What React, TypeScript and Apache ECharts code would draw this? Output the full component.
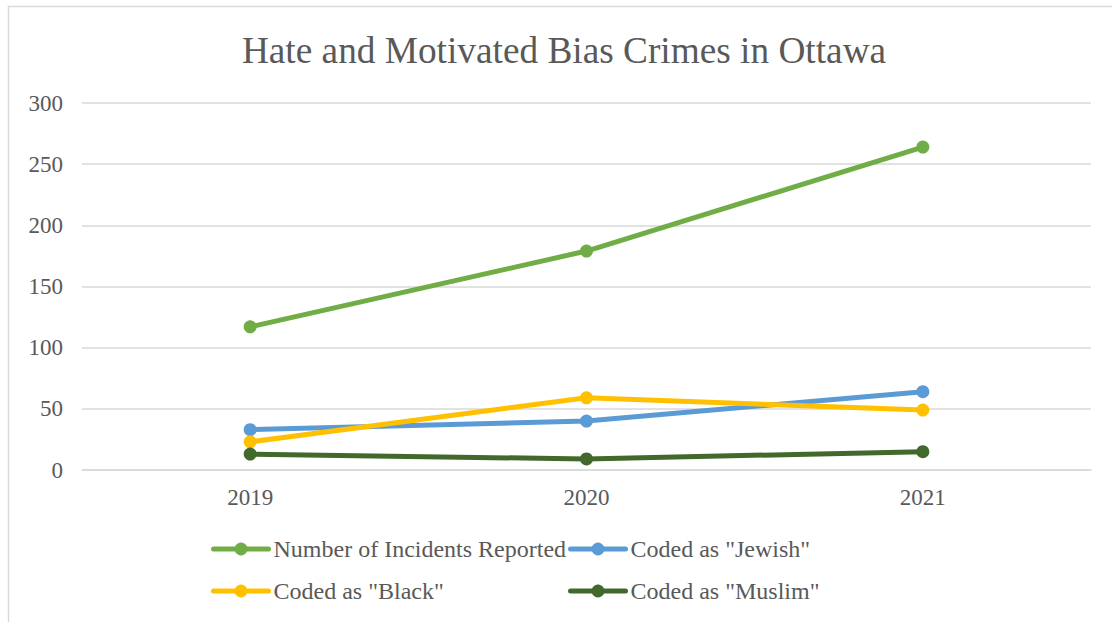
import React, { useEffect, useRef } from "react";
import * as echarts from "echarts";

const years = ["2019", "2020", "2021"];
const incidents = [117, 179, 264];
const jewish = [33, 40, 64];
const black = [23, 59, 49];
const muslim = [13, 9, 15];
const yTicks = { min: 0, max: 300, interval: 50 };

const FONT = "Liberation Serif";
const TXT = "#595959";
const GRID = "#d9d9d9";

export default function App() {
  const ref = useRef<HTMLDivElement>(null);
  useEffect(() => {
    if (!ref.current) return;
    const chart = echarts.init(ref.current, undefined, { renderer: "svg" });
    const mk = (name: string, data: number[], color: string) => ({
      name,
      type: "line",
      data,
      symbol: "circle",
      symbolSize: 13,
      showSymbol: true,
      lineStyle: { width: 5, color, cap: "round" },
      itemStyle: { color },
    });
    const legendCommon = {
      orient: "vertical",
      top: 532,
      itemWidth: 55,
      itemHeight: 16,
      itemGap: 18,
      lineStyle: { width: 5 },
      textStyle: { fontFamily: FONT, fontSize: 24, color: TXT, lineHeight: 24 },
    };
    chart.setOption({
      animation: false,
      backgroundColor: "#ffffff",
      graphic: [
        {
          type: "rect",
          silent: true,
          shape: { x: 8.5, y: 6.5, width: 1200, height: 700 },
          style: { fill: "none", stroke: GRID, lineWidth: 1.5 },
        },
        {
          type: "text",
          x: 564,
          y: 50,
          style: {
            text: "Hate and Motivated Bias Crimes in Ottawa",
            font: `37.3px ${FONT}`,
            fill: TXT,
            textAlign: "center",
            textVerticalAlign: "middle",
          },
        },
      ],
      grid: { left: 82, right: 21, top: 103, bottom: 152 },
      xAxis: {
        type: "category",
        data: years,
        boundaryGap: true,
        axisTick: { show: false },
        axisLine: { lineStyle: { color: GRID, width: 1.5 } },
        axisLabel: { fontFamily: FONT, fontSize: 23, color: TXT, margin: 16 },
      },
      yAxis: {
        type: "value",
        min: yTicks.min,
        max: yTicks.max,
        interval: yTicks.interval,
        axisLine: { show: false },
        axisTick: { show: false },
        splitLine: { lineStyle: { color: GRID, width: 1.5 } },
        axisLabel: { fontFamily: FONT, fontSize: 23, color: TXT, margin: 19 },
      },
      legend: [
        { ...legendCommon, left: 206, data: ["Number of Incidents Reported", 'Coded as "Black"'] },
        { ...legendCommon, left: 563, data: ['Coded as "Jewish"', 'Coded as "Muslim"'] },
      ],
      series: [
        mk("Number of Incidents Reported", incidents, "#70AD47"),
        mk('Coded as "Jewish"', jewish, "#5B9BD5"),
        mk('Coded as "Black"', black, "#FFC000"),
        mk('Coded as "Muslim"', muslim, "#43682B"),
      ],
    });
    return () => chart.dispose();
  }, []);
  return (
    <div
      ref={ref}
      style={{ position: "absolute", left: 0, top: 0, width: 1112, height: 622 }}
    />
  );
}
